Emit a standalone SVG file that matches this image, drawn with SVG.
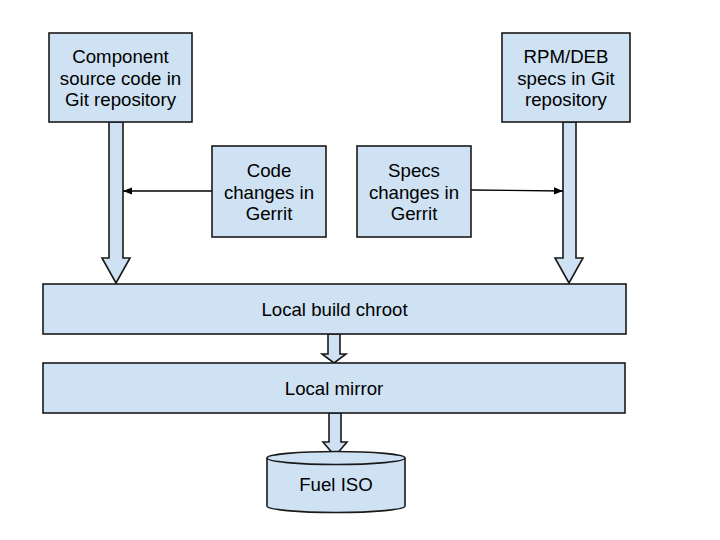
<svg xmlns="http://www.w3.org/2000/svg" width="720" height="540" viewBox="0 0 720 540">
<style>
.box{fill:#cfe2f3;stroke:#1a1a1a;stroke-width:1.6}
.fat{fill:#cfe2f3;stroke:#1a1a1a;stroke-width:1.6;stroke-linejoin:miter}
.t{font-family:"Liberation Sans",Arial,sans-serif;font-size:18.67px;fill:#000;text-anchor:middle}
.ln{stroke:#000;stroke-width:1.3;fill:none}
</style>
<defs>
<marker id="ah" viewBox="0 0 10 10" refX="10" refY="5" markerWidth="9" markerHeight="9" markerUnits="userSpaceOnUse" orient="auto">
<path d="M0,1 L10,5 L0,9 Z" fill="#000"/>
</marker>
</defs>
<rect width="720" height="540" fill="#fff"/>
<g id="connectors">
<path class="fat" d="M109,122 V258 H102 L116,283 L130,258 H123 V122 Z"/>
<path class="fat" d="M563,122 V258 H555 L569,283 L583,258 H576 V122 Z"/>
<path class="fat" d="M328,334 V354 H322 L334,363 L346,354 H340 V334 Z"/>
<path class="fat" d="M329,413 V442 H323 L335,456 L347,442 H341 V413 Z"/>
<line class="ln" x1="212" y1="191" x2="123" y2="191" marker-end="url(#ah)"/>
<line class="ln" x1="471" y1="190" x2="563" y2="191" marker-end="url(#ah)"/>
</g>
<g id="component-source">
<rect class="box" x="49" y="33" width="143" height="89"/>
<text class="t" x="120.5" y="63">Component</text>
<text class="t" x="120.5" y="84.5">source code in</text>
<text class="t" x="120.5" y="106">Git repository</text>
</g>
<g id="rpm-deb-specs">
<rect class="box" x="502" y="33" width="128" height="89"/>
<text class="t" x="566" y="63">RPM/DEB</text>
<text class="t" x="566" y="84.5">specs in Git</text>
<text class="t" x="566" y="106">repository</text>
</g>
<g id="code-changes">
<rect class="box" x="212" y="146" width="114" height="91"/>
<text class="t" x="269" y="177">Code</text>
<text class="t" x="269" y="198.5">changes in</text>
<text class="t" x="269" y="220">Gerrit</text>
</g>
<g id="specs-changes">
<rect class="box" x="357" y="146" width="114" height="91"/>
<text class="t" x="414" y="177">Specs</text>
<text class="t" x="414" y="198.5">changes in</text>
<text class="t" x="414" y="220">Gerrit</text>
</g>
<g id="local-build-chroot">
<rect class="box" x="43" y="284" width="583" height="50"/>
<text class="t" x="334.5" y="315.5">Local build chroot</text>
</g>
<g id="local-mirror">
<rect class="box" x="43" y="363" width="582" height="50"/>
<text class="t" x="334" y="394.5">Local mirror</text>
</g>
<g id="fuel-iso">
<path class="box" d="M267,458 V506 A69,6.5 0 0 0 405,506 V458 A69,6.5 0 0 0 267,458 Z"/>
<path class="ln" style="stroke:#1a1a1a;stroke-width:1.6" d="M267,458 A69,6.5 0 0 0 405,458"/>
<text class="t" x="336" y="491">Fuel ISO</text>
</g>
</svg>
